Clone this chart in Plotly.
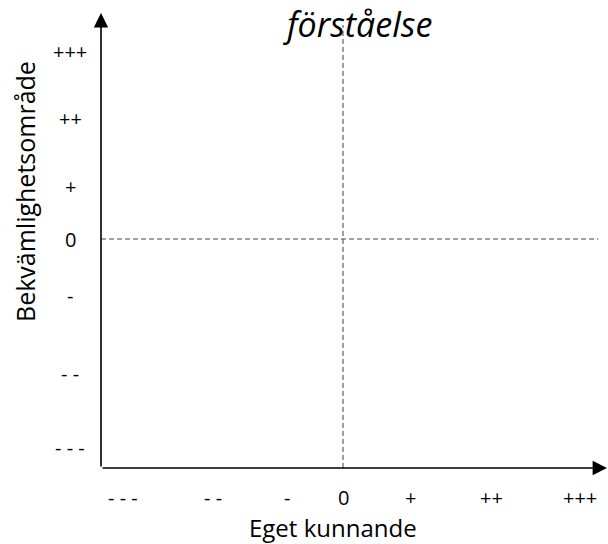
import plotly.graph_objects as go

# Data (axis categories)
x_labels = ["- - -", "- -", "-", "0", "+", "++", "+++"]
x_positions = [-2.75, -1.625, -0.7, 0, 0.84, 1.85, 2.96]
y_labels = ["+++", "++", "+", "0", "-", "- -", "- - -"]
y_positions = [2.34, 1.51, 0.66, 0, -0.71, -1.675, -2.6]
x_range = [-3.025, 3.3]
y_range = [-2.8625, 2.825]
title_text = "förståelse"
x_title = "Eget kunnande"
y_title = "Bekvämlighetsområde"

FONT = "Open Sans"
W, H = 608, 544
ML, MR, MT, MB = 101, 1, 13, 76
PW, PH = W - ML - MR, H - MT - MB

def px2paper_x(px):
    return (px - ML) / PW

def px2paper_y(py):
    return (H - MB - py) / PH

fig = go.Figure()

fig.add_trace(go.Scatter(x=[x_range[0], x_range[1]], y=[y_range[0], y_range[1]],
                         mode="markers", marker=dict(opacity=0), hoverinfo="skip",
                         showlegend=False))

shapes = [
    dict(type="line", xref="x", yref="y", x0=0, x1=0, y0=y_range[0], y1=y_range[1] - 0.15,
         line=dict(color="#444", width=1, dash="5px,3px")),
    dict(type="line", xref="x", yref="y", x0=x_range[0], x1=x_range[1] - 0.11, y0=0, y1=0,
         line=dict(color="#444", width=1, dash="5px,3px")),
]

annotations = []
annotations.append(dict(x=x_range[0], y=y_range[1], ax=x_range[0], ay=y_range[0],
                        xref="x", yref="y", axref="x", ayref="y", text="", showarrow=True,
                        arrowhead=2, arrowsize=1.8, arrowwidth=1.6, arrowcolor="black"))
annotations.append(dict(x=x_range[1], y=y_range[0], ax=x_range[0], ay=y_range[0],
                        xref="x", yref="y", axref="x", ayref="y", text="", showarrow=True,
                        arrowhead=2, arrowsize=1.8, arrowwidth=1.6, arrowcolor="black"))

for lab, v in zip(x_labels, x_positions):
    annotations.append(dict(x=v, y=px2paper_y(497), xref="x", yref="paper", text=lab,
                            showarrow=False, xanchor="center", yanchor="middle", borderpad=0,
                            font=dict(family=FONT, size=20, color="black")))
for lab, v in zip(y_labels, y_positions):
    annotations.append(dict(x=px2paper_x(70), y=v, xref="paper", yref="y", text=lab,
                            showarrow=False, xanchor="center", yanchor="middle", borderpad=0,
                            font=dict(family=FONT, size=20, color="black")))

annotations.append(dict(x=px2paper_x(333), y=px2paper_y(527.5), xref="paper", yref="paper",
                        text=x_title, showarrow=False, xanchor="center", yanchor="middle",
                        borderpad=0, font=dict(family=FONT, size=24, color="black")))
annotations.append(dict(x=px2paper_x(25), y=px2paper_y(192), xref="paper", yref="paper",
                        text=y_title, showarrow=False, xanchor="center", yanchor="middle",
                        borderpad=0, textangle=-90,
                        font=dict(family=FONT, size=25, color="black")))
annotations.append(dict(x=px2paper_x(357), y=px2paper_y(24), xref="paper", yref="paper",
                        text="<i>" + title_text + "</i>", showarrow=False,
                        xanchor="center", yanchor="middle", borderpad=0,
                        font=dict(family=FONT, size=34, color="black")))

fig.update_layout(
    width=W, height=H,
    margin=dict(l=ML, r=MR, t=MT, b=MB, pad=0),
    paper_bgcolor="white", plot_bgcolor="white",
    xaxis=dict(range=x_range, showgrid=False, zeroline=False, showticklabels=False,
               showline=False, ticks=""),
    yaxis=dict(range=y_range, showgrid=False, zeroline=False, showticklabels=False,
               showline=False, ticks=""),
    shapes=shapes, annotations=annotations, showlegend=False,
)

fig.write_html("out.html", config={"displayModeBar": False},
               post_script="document.body.style.margin='0';")
